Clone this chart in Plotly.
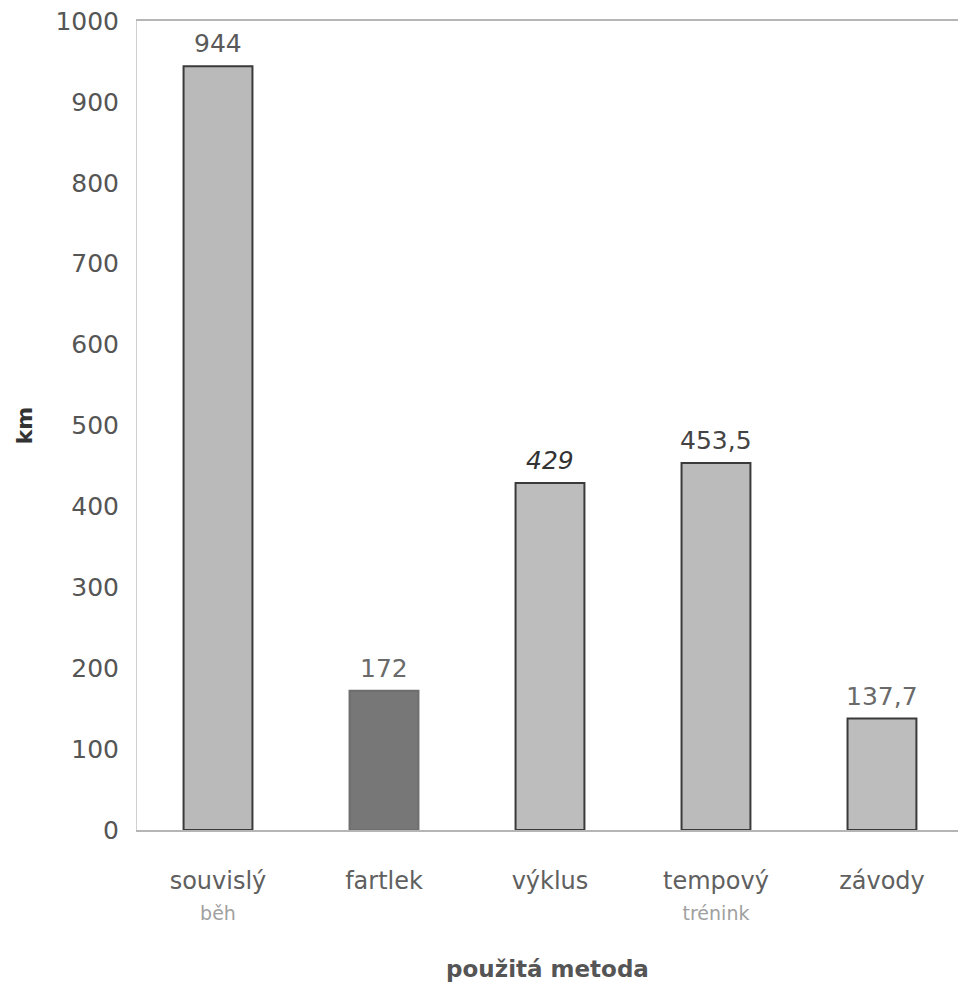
import plotly.graph_objects as go

categories = ["souvislý běh", "fartlek", "výklus", "tempový trénink", "závody"]
tick_labels = ["souvislý<br><span style='color:#a0a0a0;font-size:19px'>běh</span>",
               "fartlek",
               "výklus",
               "tempový<br><span style='color:#a0a0a0;font-size:19px'>trénink</span>",
               "závody"]
values = [944, 172, 429, 453.5, 137.7]
value_labels = ["944", "172", "429", "453,5", "137,7"]
bar_colors = ["#bababa", "#777777", "#bdbdbd", "#bbbbbb", "#bdbdbd"]
line_colors = ["#3a3a3a", "#6e6e6e", "#3a3a3a", "#3a3a3a", "#3a3a3a"]
label_colors = ["#5a5a5a", "#6a6a6a", "#333333", "#444444", "#6a6a6a"]
label_italic = [False, False, True, False, False]
y_ticks = list(range(0, 1001, 100))

FONT = "DejaVu Sans, Verdana, sans-serif"

fig = go.Figure()
fig.add_trace(go.Bar(
    x=categories, y=values, width=0.415,
    marker=dict(color=bar_colors, line=dict(color=line_colors, width=2)),
    showlegend=False, hoverinfo="skip",
))

for c, v, t, col, it in zip(categories, values, value_labels, label_colors, label_italic):
    fig.add_annotation(
        x=c, y=v, text=f"<i>{t}</i>" if it else t, showarrow=False,
        yanchor="bottom", yshift=6,
        font=dict(family=FONT, size=25, color=col),
    )

fig.update_layout(
    width=958, height=991,
    margin=dict(l=137, r=0, t=21, b=161),
    paper_bgcolor="white", plot_bgcolor="white",
    font=dict(family=FONT, color="#555555"),
)
fig.update_xaxes(
    range=[-0.488, 4.458],
    tickmode="array", tickvals=categories, ticktext=tick_labels,
    tickfont=dict(family=FONT, size=24, color="#606060"),
    ticks="", ticklabelstandoff=28,
    showline=True, linecolor="#b5b5b5", linewidth=2, mirror=True,
    showgrid=False, zeroline=False,
    title=dict(text="<b>použitá metoda</b>", font=dict(family=FONT, size=23, color="#555555"),
               standoff=38),
)
fig.update_yaxes(
    range=[0, 1000], tickvals=y_ticks,
    tickfont=dict(family=FONT, size=25, color="#555555"),
    ticks="", ticklabelstandoff=12,
    showline=True, linecolor="#d0d0d0", linewidth=1,
    showgrid=False, zeroline=False,
    title=dict(text="<b>km</b>", font=dict(family=FONT, size=22, color="#333333"),
               standoff=16),
)

fig.write_html("out.html")
